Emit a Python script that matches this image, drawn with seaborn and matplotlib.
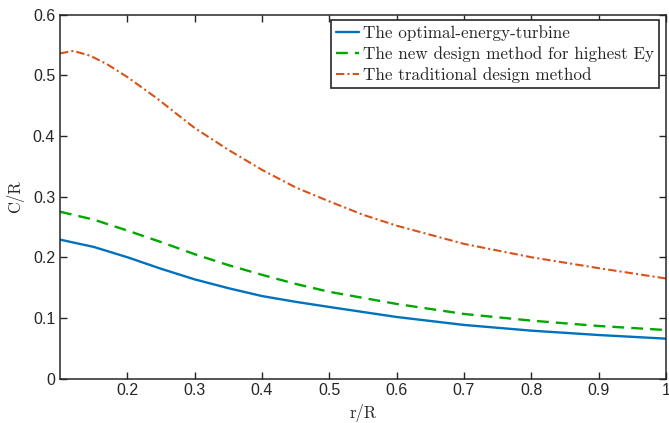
import numpy as np
import pandas as pd
import seaborn as sns
import matplotlib.pyplot as plt

# values
r_orange = [0.1, 0.12, 0.145, 0.17, 0.2, 0.22, 0.245, 0.27, 0.3, 0.35, 0.4, 0.45,
            0.5, 0.55, 0.6, 0.7, 0.8, 0.9, 1.0]
c_orange = [0.536, 0.540, 0.532, 0.518, 0.497, 0.481, 0.461, 0.439, 0.413, 0.377, 0.344, 0.315,
            0.292, 0.270, 0.252, 0.222, 0.200, 0.182, 0.165]

r_pts = [0.1, 0.15, 0.2, 0.25, 0.3, 0.35, 0.4, 0.45, 0.5, 0.6, 0.7, 0.8, 0.9, 1.0]
c_green = [0.275, 0.262, 0.244, 0.225, 0.205, 0.187, 0.171, 0.156, 0.143, 0.123, 0.1065, 0.0955, 0.0867, 0.080]
c_blue = [0.229, 0.217, 0.200, 0.181, 0.1635, 0.149, 0.136, 0.1265, 0.118, 0.1015, 0.0884, 0.079, 0.0718, 0.0658]

labels = ['The optimal-energy-turbine',
          'The new design method for highest Ey',
          'The traditional design method']

sns.set_style('ticks')
plt.rcParams['font.family'] = ['Liberation Sans', 'DejaVu Sans']

fig = plt.figure(figsize=(6.69, 4.23), dpi=100)
ax = fig.add_axes([0.0897, 0.105, 0.9058, 0.8607])

sns.lineplot(x=r_pts, y=c_blue, ax=ax, color='#0072BD', linewidth=1.7, label=labels[0])
sns.lineplot(x=r_pts, y=c_green, ax=ax, color='#00A800', linewidth=1.7, label=labels[1])
sns.lineplot(x=r_orange, y=c_orange, ax=ax, color='#D95319', linewidth=1.5, label=labels[2])
ax.lines[1].set_dashes([5, 3])
ax.lines[2].set_dashes([4, 1.5, 1, 1.5])

ax.set_xlim(0.1, 1.0)
ax.set_ylim(0, 0.6)
ax.set_xticks([0.2, 0.3, 0.4, 0.5, 0.6, 0.7, 0.8, 0.9, 1.0])
ax.set_xticklabels(['0.2', '0.3', '0.4', '0.5', '0.6', '0.7', '0.8', '0.9', '1'])
ax.set_yticks([0, 0.1, 0.2, 0.3, 0.4, 0.5, 0.6])
ax.set_yticklabels(['0', '0.1', '0.2', '0.3', '0.4', '0.5', '0.6'])
ax.tick_params(direction='in', length=5, width=1, colors='#262626', labelsize=11.5,
               top=True, right=True, labelcolor='#262626')
for s in ax.spines.values():
    s.set_color('#262626')
    s.set_linewidth(1.1)

ax.set_xlabel('r/R', family='cmr10', fontsize=12, color='#262626', labelpad=4)
ax.set_ylabel('C/R', family='cmr10', fontsize=12, color='#262626', labelpad=6)

leg = ax.legend(loc='upper right', bbox_to_anchor=(1 - 7 / 606, 1 - 5.5 / 364),
                prop={'family': 'cmr10', 'size': 12.3},
                frameon=True, fancybox=False, edgecolor='#262626', framealpha=1,
                borderpad=0.3, labelspacing=0.3, handlelength=1.35, handletextpad=0.2,
                borderaxespad=0)
leg.get_frame().set_linewidth(1.2)

fig.savefig('out.png', dpi=100)
